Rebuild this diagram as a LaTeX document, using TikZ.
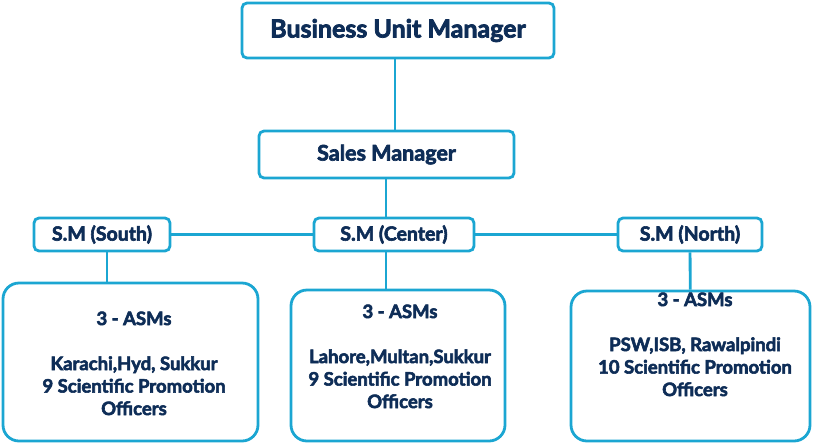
\documentclass[tikz,border=0pt]{standalone}
\usepackage{fontspec}
\setmainfont{Lato}[BoldFeatures={FakeBold=3}]
\usepackage{tikz}

\definecolor{chartblue}{HTML}{1BA6D2}
\definecolor{chartnavy}{HTML}{0E2D57}

\begin{document}
\begin{tikzpicture}[x=1pt, y=-1pt,
      every node/.style = {text=chartnavy, font=\bfseries},
      unitbox/.style = {draw=chartblue, line width=2.8pt, rounded corners=5pt, fill=white, inner sep=0pt},
      areabox/.style = {draw=chartblue, line width=2.8pt, rounded corners=16pt, fill=white, inner sep=0pt},
      areatext/.style = {anchor=north, align=center, font=\bfseries\fontsize{18.5}{22.5}\selectfont},
      link/.style = {draw=chartblue, line width=2.8pt}]
    \useasboundingbox (0,0) rectangle (813,445);
    % top levels
    \node[unitbox, minimum width=312pt, minimum height=55pt, font=\bfseries\fontsize{25}{27}\selectfont] (bum) at (398,30.5) {Business Unit Manager};
    \node[unitbox, minimum width=255pt, minimum height=47pt, font=\bfseries\fontsize{21.5}{23}\selectfont] (sm) at (386.5,154.5) {Sales Manager};
    % regional managers
    \node[unitbox, minimum width=136pt, minimum height=33pt, font=\bfseries\fontsize{19.5}{21}\selectfont] (south) at (102,234.5) {S.M (South)};
    \node[unitbox, minimum width=160pt, minimum height=33pt, font=\bfseries\fontsize{19.5}{21}\selectfont] (center) at (394,234.5) {S.M (Center)};
    \node[unitbox, minimum width=144pt, minimum height=33pt, font=\bfseries\fontsize{19.5}{21}\selectfont] (north) at (690,234.5) {S.M (North)};
    % area boxes
    \node[areabox, minimum width=255pt, minimum height=158pt] (southarea) at (130.5,362) {};
    \node[areabox, minimum width=214pt, minimum height=151pt] (centerarea) at (398,365.5) {};
    \node[areabox, minimum width=239pt, minimum height=150pt] (northarea) at (690.5,366) {};
    \node[areatext] (southtext) at (134,308) {3 - ASMs\\[22.5pt] Karachi,Hyd, Sukkur\\ 9 Scientific Promotion\\ Officers};
    \node[areatext] (centertext) at (400,301) {3 - ASMs\\[22.5pt] Lahore,Multan,Sukkur\\ 9 Scientific Promotion\\ Officers};
    \node[areatext] (northtext) at (695,289) {3 - ASMs\\[22.5pt] PSW,ISB, Rawalpindi\\ 10 Scientific Promotion\\ Officers};
    % connectors
    \draw[link] (bum.south -| 395,0) -- (sm.north -| 395,0);
    \draw[link] (sm.south -| 386,0) -- (center.north -| 386,0);
    \draw[link] (south) -- (center);
    \draw[link] (center) -- (north);
    \draw[link] (south.south -| 107,0) -- (southarea.north -| 107,0);
    \draw[link] (center.south -| 386,0) -- (centerarea.north -| 386,0);
    \draw[link] (north) -- (northarea);
\end{tikzpicture}
\end{document}
